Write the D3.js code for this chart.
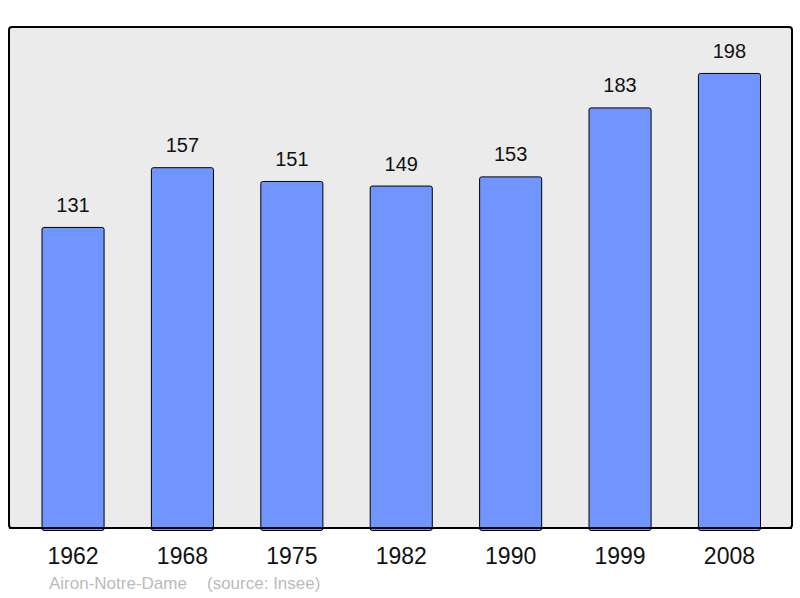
<!DOCTYPE html>
<head>
    <meta charset="utf-8">
    <script src="https://d3js.org/d3.v7.min.js"></script>
    <style>
        body {
            margin: 0;
            font-family: "Liberation Sans", Arial, sans-serif;
            background: white;
        }
        .bar {
            fill: #7095ff;
            stroke: black;
            stroke-width: 1px;
        }
        .value-label {
            font-size: 20px;
            fill: #111;
            text-anchor: middle;
        }
        .year-label {
            font-size: 23px;
            fill: #111;
            text-anchor: middle;
        }
        .source {
            font-size: 17px;
            fill: #bbbbbb;
        }
    </style>
</head>
<body>
<script>
    var years = ["1962", "1968", "1975", "1982", "1990", "1999", "2008"];
    var population = [131, 157, 151, 149, 153, 183, 198];
    var town = "Airon-Notre-Dame";
    var source = "(source: Insee)";

    var data = years.map(function(d, i) { return {year: d, value: population[i]}; });

    var width = 800, height = 598;
    var frame = {left: 9, right: 792, top: 27, bottom: 528};

    var svg = d3.select("body").append("svg")
        .attr("width", width)
        .attr("height", height);

    svg.append("rect")
        .attr("x", frame.left)
        .attr("y", frame.top)
        .attr("width", frame.right - frame.left)
        .attr("height", frame.bottom - frame.top)
        .attr("rx", 3)
        .attr("fill", "#ebebeb")
        .attr("stroke", "black")
        .attr("stroke-width", 2);

    var x = d3.scaleBand()
        .domain(years)
        .range([frame.left + 1.5, frame.right])
        .paddingInner(0.4235)
        .paddingOuter(0.2835);

    var y = d3.scaleLinear()
        .domain([0, 218])
        .range([frame.bottom, frame.top]);

    var bars = svg.append("g").selectAll("g")
        .data(data)
        .enter().append("g");

    bars.append("rect")
        .attr("class", "bar")
        .attr("x", function(d) { return x(d.year) + 0.5; })
        .attr("y", function(d) { return y(d.value) + 0.5; })
        .attr("width", x.bandwidth() - 1)
        .attr("height", function(d) { return y(0) - y(d.value) + 2; })
        .attr("rx", 2);

    bars.append("text")
        .attr("class", "value-label")
        .attr("x", function(d) { return x(d.year) + x.bandwidth() / 2; })
        .attr("y", function(d) { return y(d.value) - 15; })
        .text(function(d) { return d.value; });

    // redraw bottom frame line over bar bottoms
    svg.append("line")
        .attr("x1", frame.left)
        .attr("x2", frame.right)
        .attr("y1", frame.bottom)
        .attr("y2", frame.bottom)
        .attr("stroke", "black")
        .attr("stroke-width", 2);

    var xAxis = d3.axisBottom(x).tickSize(0).tickPadding(0);
    var axisG = svg.append("g")
        .attr("transform", "translate(0," + (frame.bottom + 36) + ")")
        .call(xAxis);
    axisG.select(".domain").remove();
    axisG.attr("font-size", null).attr("font-family", null);
    axisG.selectAll("text")
        .attr("class", "year-label")
        .attr("dy", 0)
        .attr("y", 0);

    svg.append("text")
        .attr("class", "source")
        .attr("x", 49)
        .attr("y", 589)
        .text(town);

    svg.append("text")
        .attr("class", "source")
        .attr("x", 207)
        .attr("y", 589)
        .text(source);
</script>
</body>
</html>
